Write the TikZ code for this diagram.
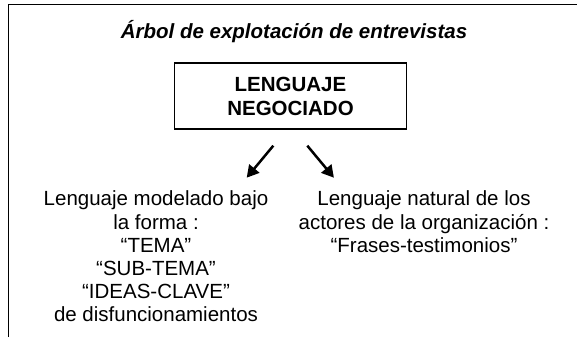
\documentclass[tikz,border=0pt]{standalone}
\usepackage{fontspec}
\setmainfont{Liberation Sans}
\usetikzlibrary{arrows.meta}

\begin{document}
\begin{tikzpicture}[x=1pt,y=-1pt,
	txt/.style={font=\fontsize{20.5}{23.2}\selectfont, align=center, inner sep=0pt},
	caja/.style={draw=black, line width=1.5pt, font=\fontsize{20.5}{24}\selectfont\bfseries, align=center, minimum width=232pt, minimum height=66pt},
	flecha/.style={line width=2.5pt, -{Triangle[length=12pt,width=13pt]}}]
	\useasboundingbox (0,0) rectangle (577,337);
	% marco abierto
	\draw[line width=1.5pt] (8.5,337) |- (577,4.5);

	\node[txt, anchor=base, font=\fontsize{20.5}{23}\selectfont\bfseries\itshape] (titulo) at (294,38.3) {Árbol de explotación de entrevistas};
	\node[caja] (neg) at (290.5,96) {LENGUAJE\\NEGOCIADO};

	\node[txt, anchor=north] (modelo) at (156,190.8) {Lenguaje modelado bajo\\la forma :\\“TEMA”\\“SUB-TEMA”\\“IDEAS-CLAVE”\\de disfuncionamientos};
	\node[txt, anchor=north] (natural) at (424,190.8) {Lenguaje natural de los\\actores de la organización :\\“Frases-testimonios”};

	\coordinate (a1) at (273.3,145.7);
	\coordinate (b1) at (246.7,177.7);
	\coordinate (a2) at (307.3,145.7);
	\coordinate (b2) at (333.9,177.7);
	\draw[flecha] (a1) -- (b1);
	\draw[flecha] (a2) -- (b2);
\end{tikzpicture}
\end{document}
